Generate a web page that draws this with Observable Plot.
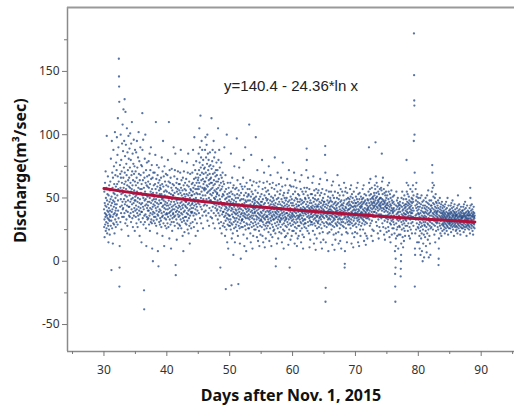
<!DOCTYPE html>
<html><head><meta charset="utf-8">
<script src="https://cdn.jsdelivr.net/npm/d3@7"></script>
<script src="https://cdn.jsdelivr.net/npm/@observablehq/plot@0.6"></script>
<style>html,body{margin:0;padding:0;background:#fff;}</style>
</head><body><div id="chart"></div>
<script>
// Start day of each daily group of readings (days after Nov. 1, 2015)
const dayStart = [30,31,32,33,34,35,36,37,38,39,40,41,42,43,44,45,46,47,48,49,50,51,52,53,54,55,56,57,58,59,60,61,62,63,64,65,66,67,68,69,70,71,72,73,74,75,76,77,78,79,80,81,82,83,84,85,86,87,88];
// Discharge readings (m3/sec) within each day, in time order
const dayValues = [
"41 27 55 33 19 46 38 62 29 44 35 71 24 50 37 31 58 43 26 99 36 48 22 40 53 34 30 67 45 28 39 15 52 33 42 25 60 37 47 32 21 56 40 35",
"63 36 49 28 81 44 57 32 -7 51 39 95 46 26 70 41 58 35 14 66 48 30 88 54 37 43 75 29 61 47 22 53 38 102 45 33 68 50 40 27 59 42 78 36 31",
"72 45 98 37 61 52 84 29 67 113 48 40 57 90 34 63 160 146 138 126 -20 -5 12 55 76 43 69 31 58 100 49 66 38 80 53 25 71 44 62 93 35 56 47 108 41",
"54 87 42 66 120 58 35 74 49 95 61 38 128 70 45 83 52 30 118 63 47 92 57 40 77 33 68 51 105 44 60 28 86 55 39 72 48 64 20 99 43 81 59 36",
"66 43 89 52 35 74 58 101 47 62 38 80 55 31 93 49 68 41 57 110 45 71 34 60 85 50 27 64 39 77 53 46 96 36 69 56 42 75 48 24 63 88 51 40",
"48 71 35 60 44 86 52 30 66 41 95 55 38 74 47 27 62 50 82 36 58 43 102 33 69 53 40 79 46 20 64 49 37 57 90 42 68 31 54 45 76 39 15 61",
"57 39 75 46 117 88 52 34 64 43 96 50 29 70 41 58 -23 -38 36 66 48 81 31 55 44 100 37 62 49 26 72 53 12 45 60 35 78 42 67 51 33 59 47 40",
"44 63 34 52 79 40 58 29 68 47 36 85 50 24 61 42 72 38 55 31 90 46 65 33 53 41 76 30 57 10 48 37 66 43 0 54 39 70 45 32 60 49 35 51",
"52 38 70 44 30 61 47 84 35 57 42 110 49 28 65 40 54 33 76 46 22 59 37 68 43 8 51 36 62 -4 45 74 39 56 31 48 64 41 53 29 58 34 60 46",
"40 57 32 66 46 27 53 38 82 49 35 61 43 20 71 50 36 95 44 59 30 48 67 39 55 12 42 75 34 52 45 63 28 47 37 56 41 69 33 51 60 26 44 38",
"55 37 46 68 30 51 41 80 35 59 44 27 63 48 110 38 54 18 42 72 33 50 62 39 45 29 66 36 53 10 47 58 40 31 73 43 49 24 56 34 61 41 52 37",
"38 52 44 90 31 60 47 35 67 41 54 28 72 45 36 85 50 -3 -11 39 58 43 33 62 48 17 55 40 65 30 46 57 37 71 42 26 53 49 35 61 44 39 29 56",
"49 36 61 43 28 70 46 54 33 88 41 58 38 26 64 47 52 31 79 44 37 56 20 42 66 34 50 8 45 60 39 71 32 53 48 23 57 40 35 62 44 51 30 47",
"43 56 35 65 47 29 53 38 78 42 60 32 49 25 70 45 37 85 52 40 22 59 34 46 63 28 54 41 14 50 36 69 44 57 30 48 39 56 26 52 42 38 61 45",
"52 39 70 46 31 62 55 88 42 58 36 76 49 27 65 44 98 53 38 60 47 33 72 57 41 20 66 50 45 79 37 54 62 43 30 57 48 69 40 53 24 64 46 59",
"66 48 85 57 38 72 62 105 45 78 53 90 34 68 59 115 43 74 50 82 30 64 55 95 41 70 47 88 58 36 76 52 65 26 80 49 61 69 44 57 73 39 63 56",
"58 74 45 88 63 52 98 40 70 57 82 36 66 49 92 60 44 77 54 100 32 68 59 85 47 72 55 38 80 64 50 28 75 61 42 69 56 86 48 65 53 76 35 62",
"48 66 57 40 113 73 52 62 34 79 46 58 88 43 69 54 30 75 60 95 38 64 50 82 45 56 70 26 61 49 86 42 67 55 36 72 51 63 44 78 57 40 68 53",
"54 41 72 48 33 63 105 58 38 80 45 65 30 52 88 43 60 36 74 49 26 56 -5 40 68 47 62 31 78 42 57 22 66 45 51 37 59 44 70 28 53 39 63 46",
"39 52 30 46 61 35 90 44 27 55 41 20 49 36 68 32 -22 43 57 38 25 50 42 100 34 47 15 53 40 29 62 37 45 10 51 33 58 41 28 48 36 54 43 31",
"36 51 28 44 62 33 47 25 85 40 55 30 -19 42 18 49 37 66 29 53 41 22 58 35 46 5 39 60 31 48 26 43 75 34 52 38 15 45 57 32 41 27 50 37",
"47 29 40 58 34 97 45 24 53 38 64 31 43 20 50 36 -18 41 56 28 45 33 74 39 52 26 42 14 48 35 61 30 44 2 37 54 41 27 49 32 59 38 45 33",
"33 45 57 27 40 66 36 49 21 43 80 31 52 38 12 46 35 59 28 42 90 37 48 25 54 34 41 8 47 30 62 39 44 18 51 36 29 57 42 34 48 26 40 53",
"52 37 44 26 108 41 33 57 29 48 35 64 22 45 39 15 51 31 84 43 36 55 27 40 60 34 47 10 38 53 30 42 20 49 36 63 28 45 33 41 25 50 38 46",
"39 48 31 56 42 25 98 36 51 29 44 62 33 40 19 47 35 72 27 43 54 38 16 46 30 41 59 34 49 24 37 12 45 63 32 42 28 51 36 21 44 39 47 33",
"44 32 53 38 27 47 80 35 42 20 57 31 49 40 15 36 62 29 45 34 70 41 25 52 37 11 46 33 58 28 43 39 18 50 35 30 55 42 26 48 36 63 31 40",
"35 49 28 42 56 33 46 23 39 75 31 53 37 16 44 30 61 40 26 48 34 68 38 21 45 32 51 12 41 36 58 29 47 35 19 43 39 62 27 50 33 45 24 37",
"48 33 41 25 57 36 44 82 30 52 39 22 46 34 -4 2 38 60 28 43 35 49 14 40 31 55 37 70 26 45 33 18 50 39 29 42 61 35 47 23 41 36 53 32",
"31 45 37 56 27 42 34 66 40 22 49 33 44 15 38 59 29 47 36 78 41 25 52 34 43 10 39 30 54 46 24 37 50 32 19 44 35 60 28 41 48 33 20 38",
"41 34 50 27 45 38 65 31 43 22 54 36 47 29 13 40 56 33 72 44 25 37 48 -5 35 60 30 42 39 17 51 34 46 28 59 36 41 20 49 32 44 38 24 35",
"37 46 29 53 40 33 59 24 44 36 70 31 48 39 14 42 27 55 35 64 41 30 50 22 38 45 33 58 26 43 12 36 49 31 41 18 47 34 53 28 39 44 20 36",
"44 35 52 28 40 47 33 63 37 24 49 31 42 57 36 15 45 30 68 39 26 48 34 41 55 21 38 46 32 10 43 36 53 29 40 19 47 33 58 27 42 38 30 50",
"33 41 49 30 55 37 45 26 72 39 89 80 58 43 35 47 24 40 52 31 66 38 44 28 36 50 22 42 34 57 11 39 46 32 41 17 48 35 29 53 37 43 31 40",
"46 38 31 53 42 35 62 29 44 39 24 50 36 67 41 33 47 14 40 56 30 43 37 21 49 34 52 28 45 9 38 41 32 57 36 43 18 48 35 26 40 44 31 54",
"36 43 30 49 38 56 32 45 27 41 61 34 47 22 39 52 35 65 29 43 37 15 46 33 54 40 26 42 36 10 48 31 57 39 44 23 35 50 41 17 37 45 30 47",
"40 34 47 28 53 38 43 84 91 70 -32 -21 15 36 45 31 56 39 27 42 35 64 30 48 37 22 44 33 51 40 8 46 29 38 55 34 41 23 47 36 30 43 39 50",
"33 41 48 29 38 55 36 44 25 40 60 31 47 35 13 43 28 52 37 63 39 32 45 21 34 50 42 27 38 9 46 33 55 36 41 17 30 47 39 22 44 35 29 40",
"42 35 50 28 45 37 68 31 40 54 33 46 23 38 14 49 36 60 30 43 34 52 26 41 39 16 47 33 57 29 44 36 10 48 31 40 21 45 37 55 33 42 28 38",
"37 44 31 52 39 46 27 41 62 34 48 36 -5 -2 8 40 55 30 43 35 58 26 42 38 23 49 33 45 15 37 54 31 40 22 46 35 50 29 41 36 44 32 38 47",
"41 34 49 29 45 37 57 31 42 26 51 36 44 60 33 39 14 47 30 53 38 43 22 35 50 40 28 46 11 37 43 32 55 36 41 19 48 34 29 44 38 23 40 46",
"36 43 30 51 38 46 27 41 58 34 49 37 22 44 32 62 39 47 15 35 53 41 29 45 33 12 40 49 31 54 37 43 25 46 35 20 42 38 51 28 44 34 39 47",
"43 36 49 30 45 38 57 33 41 25 50 35 46 60 32 40 16 47 37 53 29 42 35 22 48 39 31 45 13 38 52 34 41 20 46 36 30 44 40 18 49 34 42 37",
"41 48 35 55 43 38 90 62 46 33 52 40 28 57 44 37 65 49 30 42 53 36 47 20 45 39 58 32 50 41 25 46 37 16 44 51 35 49 42 24 47 39 54 43",
"46 52 39 60 44 35 57 48 94 41 67 50 31 45 54 38 62 43 28 51 46 36 59 42 22 48 40 55 33 47 18 44 53 37 49 27 45 41 57 35 50 43 24 46",
"44 50 37 58 42 34 56 47 85 40 63 49 30 45 53 36 66 42 27 48 45 35 57 41 21 47 39 54 32 46 17 43 52 36 48 26 44 40 55 34 50 42 23 45",
"42 36 52 31 46 39 60 33 44 27 49 37 55 24 41 62 35 47 19 43 38 53 30 45 34 15 50 40 29 44 36 56 32 42 21 48 35 40 26 46 38 51 33 41",
"39 31 47 26 42 36 52 29 45 22 40 35 8 -10 -20 -32 -5 2 12 18 44 30 55 37 41 25 48 33 20 43 38 27 50 34 46 10 39 32 44 21 36 41 28 45",
"35 42 27 47 33 39 21 44 -12 -6 0 5 14 31 50 37 25 43 34 55 29 40 19 46 36 11 41 32 49 26 38 16 44 30 52 35 24 42 37 20 45 33 28 40",
"43 37 49 32 45 80 62 55 39 28 47 41 35 53 24 44 38 60 30 46 36 51 20 42 34 48 27 45 39 18 43 33 57 36 41 25 47 38 30 44 35 50 40 22",
"46 38 55 31 49 42 60 35 47 28 52 40 95 180 147 127 123 100 70 -20 10 5 22 44 36 57 33 48 25 42 62 37 51 30 45 15 40 53 34 47 27 43 38 50",
"33 26 41 15 37 29 46 20 35 10 43 31 24 50 38 5 34 27 45 18 40 30 52 22 36 8 42 28 47 33 0 39 25 44 14 35 31 48 21 38 3 34 29 42",
"36 28 44 19 39 31 50 24 41 12 35 47 27 38 7 43 33 52 22 40 30 46 17 37 29 56 25 42 34 3 45 32 38 20 48 28 36 14 41 31 5 39 26 44",
"40 33 48 27 44 36 55 30 42 76 70 62 58 38 25 46 35 51 29 41 37 60 32 45 21 39 34 50 28 43 15 40 36 53 31 47 24 38 42 33 46 30 39 35",
"37 31 44 27 40 34 48 25 42 -3 2 10 18 36 46 30 39 33 50 28 41 35 22 43 32 38 26 45 34 20 40 36 29 47 33 38 24 42 35 30 44 37 28 39",
"34 29 40 25 36 31 43 27 38 22 35 45 30 37 33 41 26 34 47 29 39 32 24 36 42 28 35 31 50 27 38 33 21 37 30 44 32 36 26 40 34 29 38 31",
"35 30 41 26 37 32 44 28 39 23 34 46 31 38 29 42 33 36 27 48 35 30 40 25 37 32 43 28 36 20 39 34 31 45 29 38 33 27 41 35 30 37 24 36",
"33 28 39 25 36 31 42 27 37 22 34 44 30 52 35 29 40 32 26 38 33 45 28 36 31 41 24 35 30 37 21 39 33 27 43 31 36 29 34 38 26 35 32 40",
"34 29 40 26 36 31 43 28 38 23 35 45 30 37 27 41 33 36 25 47 32 38 29 35 42 27 34 31 39 20 36 33 28 44 30 37 32 26 40 34 29 36 31 38",
"33 28 39 25 36 30 42 27 37 22 34 58 50 44 31 36 29 40 33 26 38 32 45 28 35 30 41 24 36 31 37 21 39 33 27 43 30 35 29 38 34 26 36 31"
];
// Fitted curve: y = a - b*ln x
const fitA = 140.4, fitB = 24.36;
const fitDays = [30, 33, 36, 40, 45, 50, 55, 60, 65, 70, 75, 80, 85, 89];
const equationText = "y=140.4 - 24.36*ln x";
const xTitle = "Days after Nov. 1, 2015";
const yTitle = "Discharge(m\u00B3/sec)";
const xTicks = [30, 40, 50, 60, 70, 80, 90];
const xMinorTicks = [25, 35, 45, 55, 65, 75, 85, 95];
const yTicks = [-50, 0, 50, 100, 150];
const yMinorTicks = [-25, 25, 75, 125, 175];
const xDomain = [24.2, 95.3];
const yDomain = [-71.3, 200.5];

const points = [];
dayStart.forEach((d, k) => {
  const vals = dayValues[k].trim().split(/\s+/).map(Number);
  vals.forEach((v, i) => points.push({x: d + (i + 0.5) / vals.length, y: v}));
});
const fit = fitDays.map(x => ({x, y: fitA - fitB * Math.log(x)}));

const axisGray = "#8a8a8a";
const chart = Plot.plot({
  width: 514, height: 405,
  marginLeft: 67, marginRight: 0, marginTop: 7, marginBottom: 54,
  style: {fontFamily: "'Noto Sans', 'Liberation Sans', sans-serif", fontSize: "12px", background: "#fff", color: "#333"},
  x: {domain: xDomain},
  y: {domain: yDomain},
  marks: [
    Plot.dot(points, {x: "x", y: "y", r: 1.15, fill: "#173f80", fillOpacity: 0.72, stroke: "none"}),
    Plot.line(fit, {x: "x", y: "y", stroke: "#b0103c", strokeWidth: 3}),
    Plot.ruleX([xDomain[0]], {stroke: axisGray, strokeWidth: 1.5}),
    Plot.ruleY([yDomain[0]], {stroke: axisGray, strokeWidth: 1.5}),
    Plot.ruleY([yDomain[1]], {stroke: "#999", strokeWidth: 2}),
    Plot.axisY({ticks: yTicks, tickSize: 5, tickPadding: 3, tickFormat: d => String(d), label: null, stroke: "#777", fill: "#333"}),
    Plot.axisY({ticks: yMinorTicks, tickSize: 3, tickFormat: () => "", label: null, stroke: "#777"}),
    Plot.axisX({ticks: xTicks, tickSize: 5, tickPadding: 9, tickFormat: d => String(d), label: null, stroke: "#777", fill: "#333"}),
    Plot.axisX({ticks: xMinorTicks, tickSize: 3, tickFormat: () => "", label: null, stroke: "#777"}),
    Plot.text([equationText], {frameAnchor: "top", dy: 73, text: d => d, fontFamily: "'Liberation Sans', Arial, sans-serif", fontSize: 15, fill: "#222"}),
    Plot.text([xTitle], {frameAnchor: "bottom", dy: 49, text: d => d, fontWeight: "bold", fontSize: 16, fill: "#111"}),
    Plot.text([yTitle], {frameAnchor: "left", dx: -47, dy: -9, rotate: -90, textAnchor: "middle", text: d => d, fontWeight: "bold", fontSize: 16, fill: "#111"})
  ]
});
document.getElementById("chart").appendChild(chart);
</script>
</body></html>
